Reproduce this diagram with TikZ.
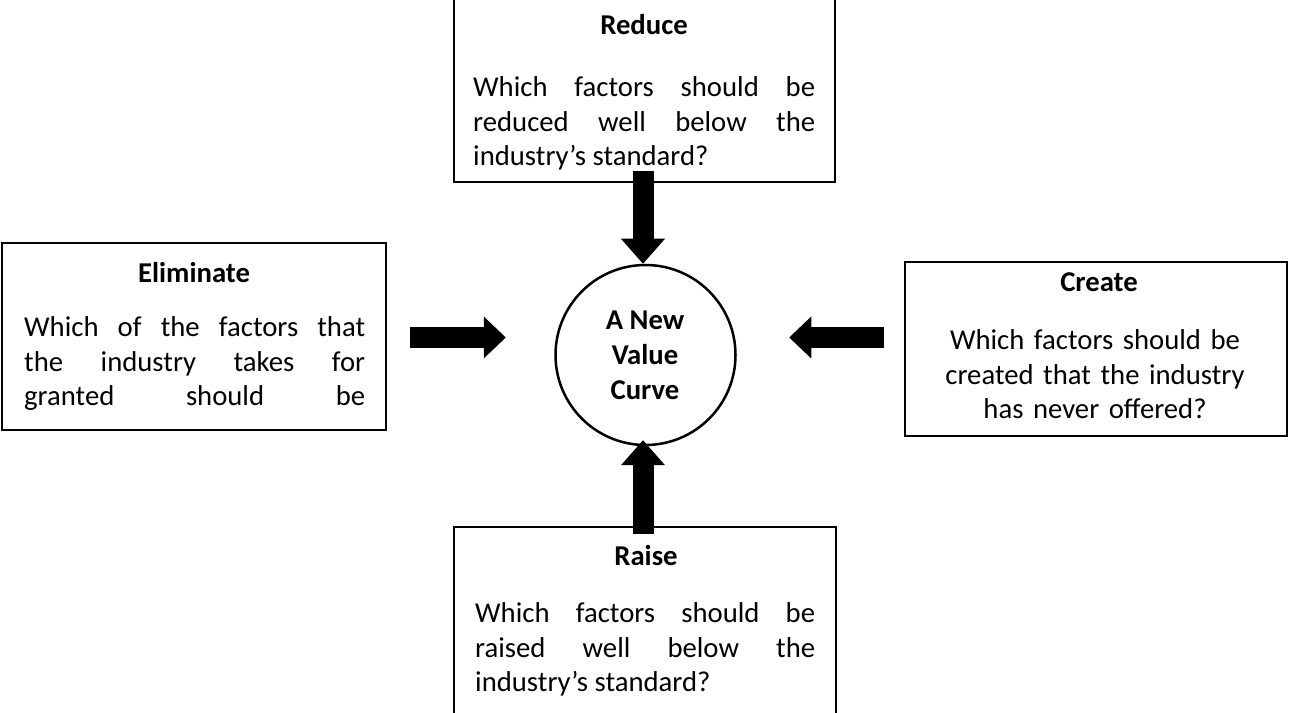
\documentclass[tikz,border=0pt]{standalone}
\usepackage{fontspec}
\setmainfont{Carlito}
\usetikzlibrary{arrows.meta,calc}
% one fully justified line of a text block
\newcommand{\jline}[1]{\makebox[\linewidth][s]{#1}}

\begin{document}
\begin{tikzpicture}[x=1pt,y=1pt,
  txt/.style={inner sep=0pt, font=\fontsize{28.7}{34.5}\selectfont},
  head/.style={txt, anchor=base, font=\fontsize{28.7}{34.5}\selectfont\bfseries},
  bodyj/.style={txt, anchor=base west, text width=#1, align=justify},
  bodyc/.style={txt, anchor=base, text width=#1, align=center},
  frame/.style={draw=black, line width=2.5pt, rectangle, inner sep=0pt},
  vblock/.style={line width=21pt, -{Triangle[length=25pt,width=44pt,line width=0pt]}},
  hblock/.style={line width=21pt, -{Triangle[length=22pt,width=42pt,line width=0pt]}}]
\useasboundingbox (0,0) rectangle (1290,712);
\clip (0,0) rectangle (1290,712);

% question boxes
\node[frame, minimum width=381, minimum height=210] (reduce) at (644.5,635) {};
\node[frame, minimum width=384, minimum height=187] (elim)   at (194,375.5) {};
\node[frame, minimum width=382, minimum height=174] (create) at (1096,363) {};
\node[frame, minimum width=382, minimum height=203] (raise)  at (645,83.5) {};

% central circle
\node[draw=black, line width=2.5pt, circle, minimum size=180, inner sep=0pt] (curve) at (645.5,357) {};
\node[head] (c1) at (645,382) {A New};
\node[head] (c2) at (645,347) {Value};
\node[head] (c3) at (645,312) {Curve};

% Reduce
\node[head] (rt) at (644,677) {Reduce};
\node[bodyj=342] (rb) at (473,615) {\jline{Which factors should be}\\\jline{reduced well below the}\\industry’s standard?};

% Eliminate
\node[head] (et) at (194,429) {Eliminate};
\node[bodyj=341] (eb) at (24,375) {\jline{Which of the factors that}\\\jline{the industry takes for}\\\jline{granted should be}};

% Create
\node[head] (ct) at (1099,420) {Create};
\node[bodyc=382] (cb) at (1095,362) {Which factors should be\\created that the industry\\has never offered?};

% Raise
\node[head] (at) at (646,146) {Raise};
\node[bodyj=340] (ab) at (475,89) {\jline{Which factors should be}\\\jline{raised well below the}\\industry’s standard?};

% block arrows pointing at the circle
\draw[vblock] ($(reduce.south)+(-1.5,12)$) -- ($(curve.north)+(-2.5,0)$);
\draw[vblock] ($(raise.north)+(-2,-8)$) -- ($(curve.south)+(-2.5,6)$);
\draw[hblock] ($(elim.east)+(23,-1)$) -- ($(curve.west)+(-48.5,17.5)$);
\draw[hblock] ($(create.west)+(-20,11.5)$) -- ($(curve.east)+(52.5,17.5)$);
\end{tikzpicture}
\end{document}
